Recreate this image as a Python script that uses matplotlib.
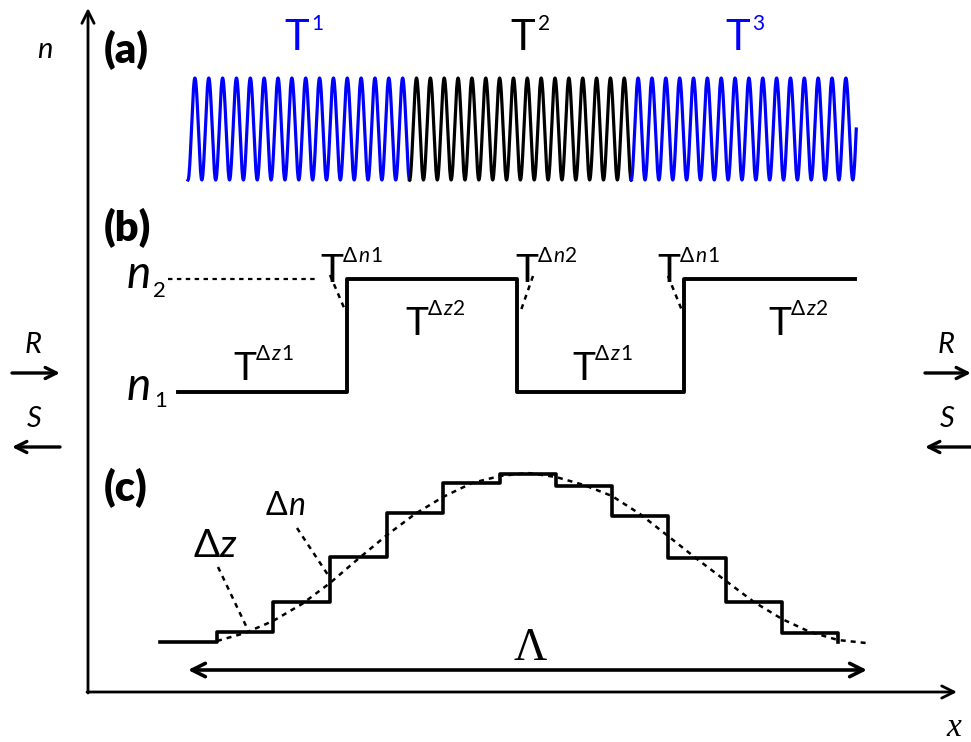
import numpy as np
import matplotlib
matplotlib.use("Agg")
import matplotlib.pyplot as plt

FONT = ["Lato", "DejaVu Sans"]
SERIF = ["Liberation Serif", "DejaVu Serif"]
BLUE = "#0000ff"

# ---------------- data (pixel space of the 971x742 drawing) ----------------
# (a) grating made of three sections T1, T2, T3
wave_start = 188
wave_period = 13.85
wave_center = 129
wave_amp = 51
section_periods = [16, 16, 16.25]
section_colors = [BLUE, "black", BLUE]
section_labels = ["1", "2", "3"]
section_label_x = [284, 510, 725]

# (b) two-level index profile
n1_level = 392
n2_level = 279
b_edges = [178, 347, 517, 684, 855]
b_levels = [n1_level, n2_level, n1_level, n2_level, n2_level]

# (c) staircase approximation of one period
c_edges = [160, 217, 273, 330, 387, 443, 500, 556, 612, 668, 726, 782, 838]
c_levels = [642, 632, 602, 557, 513, 483, 474, 486, 516, 558, 602, 633, 642]
smooth_x = [217, 245, 273, 302, 330, 358, 387, 415, 443, 472, 500, 528, 556,
            584, 612, 640, 668, 697, 726, 754, 782, 810, 838, 866]
smooth_y = [641, 633, 621, 604, 583, 559, 535, 514, 497, 483, 476, 473, 477,
            485, 496, 514, 536, 559, 581, 602, 619, 632, 640, 643]

# ---------------- figure ----------------
fig = plt.figure(figsize=(9.71, 7.42), dpi=100)
ax = fig.add_axes([0, 0, 1, 1])
ax.set_xlim(0, 971)
ax.set_ylim(742, 0)
ax.axis("off")
fig.canvas.draw()
renderer = fig.canvas.get_renderer()


def rich(x, y, parts, size, color="black", gap=1.0):
    # draw text pieces one after another (regular / italic)
    for s, style in parts:
        fam = SERIF if style == "serif" else FONT
        st = "italic" if style in ("italic", "serif") else "normal"
        t = ax.text(x, y, s, fontsize=size, style=st, family=fam,
                    ha="left", va="baseline", color=color)
        x += t.get_window_extent(renderer).width + gap
    return x


def arrow(x0, y0, x1, y1, lw=2.0, style="->", ms=22):
    ax.annotate("", xy=(x1, y1), xytext=(x0, y0),
                arrowprops=dict(arrowstyle=style, lw=lw, color="black",
                                mutation_scale=ms, shrinkA=0, shrinkB=0))


# axes
arrow(88, 693, 88, 8, lw=2.0)
arrow(87, 692, 957, 692, lw=2.0)
rich(37, 58, [("n", "italic")], 21)
rich(946, 736, [("x", "serif")], 24)

# panel letters
for lab, by in [("(a)", 63), ("(b)", 241), ("(c)", 501)]:
    ax.text(104, by, lab, fontsize=30, weight="heavy", family=FONT, va="baseline")

# (a) sinusoidal grating
start = wave_start
for per, col in zip(section_periods, section_colors):
    xs = np.linspace(start, start + per * wave_period, int(per * 40) + 1)
    ys = wave_center + wave_amp * np.cos(2 * np.pi * (xs - wave_start) / wave_period)
    ax.plot(xs, ys, color=col, lw=2.3, solid_joinstyle="round")
    start += per * wave_period
for lab, lx, col in zip(section_labels, section_label_x, section_colors):
    xe = rich(lx, 50, [("T", "normal")], 30, color=col, gap=3)
    rich(xe, 30, [(lab, "normal")], 15, color=col)

# (b) step profile
ax.step(b_edges, b_levels, where="post", color="black", lw=2.8)
ax.plot([168, 318], [n2_level, n2_level], color="black", lw=1.6, ls=(0, (2, 2)))
for (xa, ya), (xb, yb) in [((330, 275), (345, 310)),
                           ((533, 276), (520, 313)),
                           ((668, 276), (683, 313))]:
    ax.plot([xa, xb], [ya, yb], color="black", lw=1.8, ls=(0, (2, 2)))
rich(127, 288, [("n", "italic")], 33)
rich(153, 297, [("2", "normal")], 16)
rich(127, 400, [("n", "italic")], 33)
rich(154, 407, [("1", "normal")], 16)

b_tlabels = [(320, 282, "n", "1"), (405, 335, "z", "2"), (233, 380, "z", "1"),
             (515, 282, "n", "2"), (572, 380, "z", "1"), (657, 282, "n", "1"),
             (768, 335, "z", "2")]
for tx, ty, var, idx in b_tlabels:
    ax.text(tx, ty, "T", fontsize=28, family=FONT, va="baseline")
    rich(tx + 23, ty - 20, [("Δ", "normal"), (var, "italic"), (idx, "normal")], 15)

# R / S propagation arrows
for xl, xr in [(12, 60), (925, 971)]:
    rich(xl + 13, 353, [("R", "italic")], 21)
    rich(xl + 15, 427, [("S", "italic")], 21)
    arrow(xl, 373, xr, 373, lw=2.4, ms=20)
    arrow(xr, 447, xl, 447, lw=2.4, ms=20)

# (c) staircase and smooth profile
ax.step(c_edges, c_levels, where="post", color="black", lw=2.6)
ax.plot(smooth_x, smooth_y, color="black", lw=1.8, ls=(0, (2, 2)))
ax.plot([218, 247], [567, 628], color="black", lw=1.8, ls=(0, (2, 2)))
ax.plot([297, 330], [528, 578], color="black", lw=1.8, ls=(0, (2, 2)))
rich(193, 557, [("Δ", "normal"), ("z", "italic")], 28, gap=0)
rich(266, 515, [("Δ", "normal"), ("n", "italic")], 23, gap=0)

arrow(188, 670, 867, 670, lw=2.6, style="<->", ms=24)
ax.text(530, 660, "Λ", fontsize=33, family=SERIF, ha="center", va="baseline")

fig.savefig("out.png", dpi=100)
